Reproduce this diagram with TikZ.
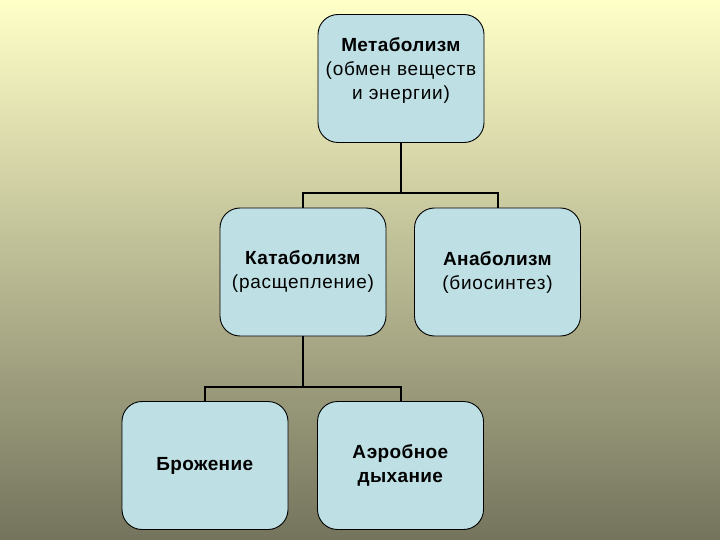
\documentclass[tikz,border=0pt]{standalone}
\usepackage{fontspec}
\setmainfont[LetterSpace=4,BoldFeatures={LetterSpace=2}]{Liberation Sans}
\definecolor{bgtop}{RGB}{255,255,200}
\definecolor{bgmid}{RGB}{210,210,168}
\definecolor{bgbot}{RGB}{116,116,94}
\definecolor{boxblue}{RGB}{190,224,228}
\begin{document}
\begin{tikzpicture}[x=1pt,y=-1pt,
  box/.style={draw,rounded corners=20pt,fill=boxblue,line width=0.9pt,minimum width=166pt,minimum height=128pt,align=center,inner sep=2pt,font=\fontsize{19}{24}\selectfont},
  link/.style={line width=2pt}]
\shade[top color=bgtop,middle color=bgmid,bottom color=bgbot] (0,0) rectangle (720,540);
\useasboundingbox (0,0) rectangle (720,540);
\node[box,text depth=20pt] (met) at (401,78.5) {\textbf{Метаболизм}\\(обмен веществ\\и энергии)};
\node[box] (kat) at (303,272) {\textbf{Катаболизм}\\(расщепление)};
\node[box] (ana) at (497.5,272) {\textbf{Анаболизм}\\(биосинтез)};
\node[box] (bro) at (205,465.5) {\textbf{Брожение}};
\node[box] (aer) at (400.5,465.5) {\textbf{Аэробное}\\\textbf{дыхание}};
\coordinate (j1) at (401,193);
\coordinate (j2) at (303,387);
\draw[link] (met.south) -- (j1);
\draw[link] (kat.north) |- (j1) -| (ana.north);
\draw[link] (kat.south) -- (j2);
\draw[link] (bro.north) |- (j2) -| (aer.north);
\end{tikzpicture}
\end{document}
